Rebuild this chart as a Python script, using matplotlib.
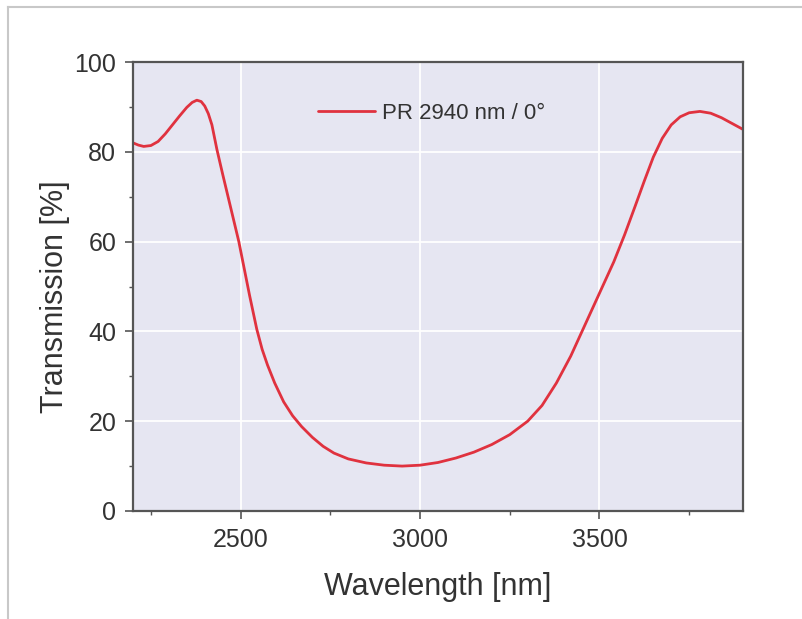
import matplotlib
matplotlib.use("Agg")
import matplotlib.pyplot as plt
from matplotlib.lines import Line2D
from matplotlib.ticker import MultipleLocator

# values
wavelength = [2200, 2215, 2230, 2250, 2270, 2290, 2310, 2330, 2350, 2365,
              2378, 2390, 2400, 2410, 2420, 2434, 2450, 2465, 2480, 2495,
              2510, 2525, 2545, 2560, 2575, 2595, 2620, 2645, 2670, 2700,
              2730, 2760, 2800, 2850, 2900, 2950, 3000, 3050, 3100, 3150,
              3200, 3250, 3300, 3340, 3380, 3420, 3460, 3500, 3540, 3570,
              3600, 3625, 3650, 3675, 3700, 3725, 3750, 3780, 3810, 3840,
              3870, 3900]
transmission = [82.0, 81.5, 81.2, 81.4, 82.3, 84.0, 86.0, 88.0, 89.9, 91.0,
                91.5, 91.2, 90.2, 88.5, 86.0, 80.5, 75.0, 70.0, 65.0, 60.0,
                54.0, 48.0, 40.5, 36.0, 32.5, 28.5, 24.3, 21.2, 18.8, 16.4,
                14.4, 12.9, 11.6, 10.7, 10.2, 10.0, 10.2, 10.8, 11.8, 13.1,
                14.8, 17.0, 20.0, 23.5, 28.5, 34.5, 41.5, 48.5, 55.5, 61.5,
                68.0, 73.5, 78.8, 83.0, 86.0, 87.8, 88.7, 89.0, 88.6, 87.6,
                86.3, 85.0]
series_label = "PR 2940 nm / 0°"

plt.rcParams['font.family'] = ['Liberation Sans', 'DejaVu Sans']
text_color = '#333333'

fig = plt.figure(figsize=(8.02, 6.19), dpi=100)
ax = fig.add_axes([0.1658, 0.1745, 0.9264 - 0.1658, 0.8998 - 0.1745])
ax.set_facecolor('#E6E6F2')

# light frame round the picture (top and left edges)
fig.add_artist(Line2D([8 / 802, 8 / 802], [0, 1 - 7 / 619], transform=fig.transFigure,
                      color='#C8C8C8', linewidth=1.5))
fig.add_artist(Line2D([8 / 802, 1], [1 - 7 / 619, 1 - 7 / 619], transform=fig.transFigure,
                      color='#C8C8C8', linewidth=1.5))

ax.plot(wavelength, transmission, color='#E0323F', linewidth=2.0,
        label=series_label, solid_capstyle='round', solid_joinstyle='round')

ax.set_xlim(2200, 3900)
ax.set_ylim(0, 100)
ax.xaxis.set_major_locator(MultipleLocator(500))
ax.xaxis.set_minor_locator(MultipleLocator(250))
ax.yaxis.set_major_locator(MultipleLocator(20))
ax.yaxis.set_minor_locator(MultipleLocator(10))

ax.grid(True, which='major', color='white', linewidth=1.3)
ax.set_axisbelow(True)

for side in ax.spines.values():
    side.set_color('#555555')
    side.set_linewidth(1.6)

ax.tick_params(which='major', direction='out', length=6, width=1.2,
               color='#555555', labelsize=18, labelcolor=text_color, pad=6)
ax.tick_params(which='minor', direction='out', length=3, width=1.0, color='#555555')

ax.set_xlabel('Wavelength [nm]', fontsize=22, color=text_color)
ax.set_ylabel('Transmission [%]', fontsize=22, color=text_color)
ax.xaxis.set_label_coords(0.5, -0.136)
ax.yaxis.set_label_coords(-0.103, 0.477)

ax.legend(loc='center left', bbox_to_anchor=(0.27, 0.886), frameon=False,
          fontsize=16, handlelength=2.6, handletextpad=0.3, labelcolor=text_color)

fig.savefig('out.png', dpi=100)
